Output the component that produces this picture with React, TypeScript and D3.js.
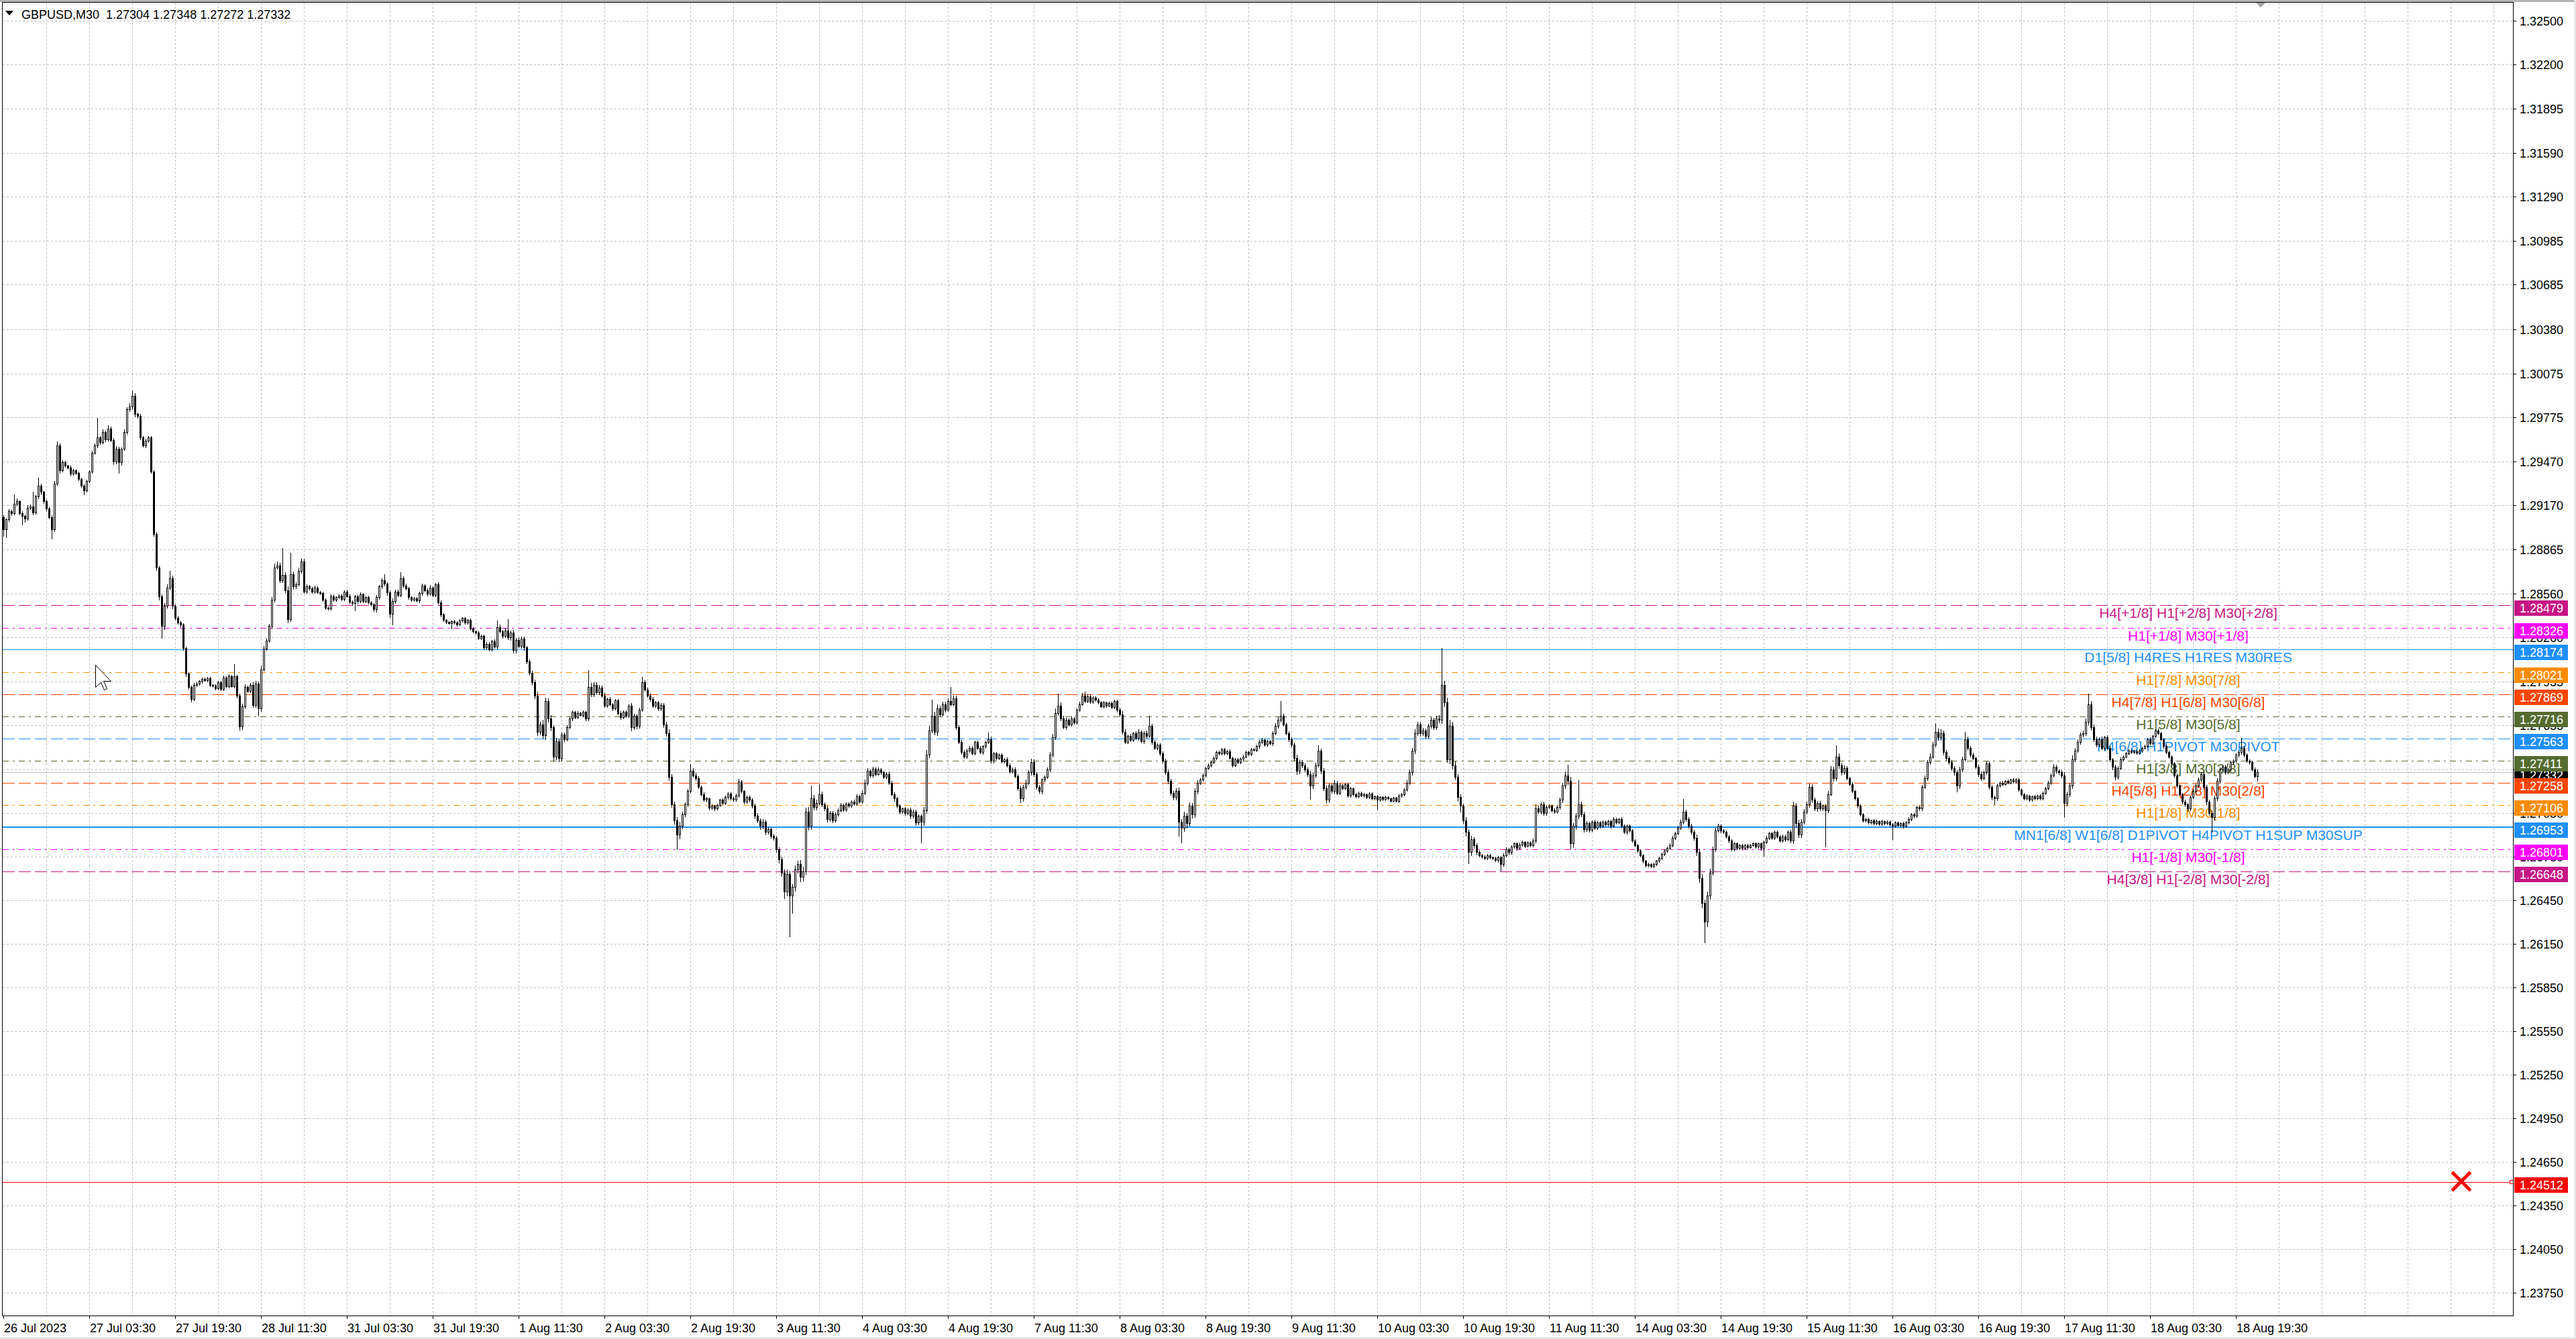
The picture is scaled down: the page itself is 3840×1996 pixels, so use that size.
import React from "react";
import * as d3 from "d3";

// ---------- DATA ----------
const chartTitle = "GBPUSD,M30  1.27304 1.27348 1.27272 1.27332";

// prices in points (0.00001) above 1.20000 ; open of bar n = close of bar n-1
const firstOpenPts = 9086;
const closePts = [
  9004,9070,9128,9111,9177,9194,9111,9095,9078,9152,9161,9119,9227,9301,9259,9194,9144,9086,9004,9317,
  9581,9408,9466,9441,9429,9386,9408,9391,9350,9304,9271,9334,9400,9528,9581,9634,9601,9672,9622,9696,
  9617,9469,9556,9462,9556,9672,9828,9845,9919,9795,9782,9634,9581,9611,9634,9400,8971,8740,8542,8336,
  8476,8600,8666,8476,8394,8361,8345,8186,8008,7916,7834,7932,7941,7957,7974,7965,7979,7932,7929,7908,
  7949,7903,7982,7924,7990,7924,7990,7858,7644,7784,7916,7891,7932,7792,7941,7768,8040,8180,8237,8336,
  8518,8740,8753,8650,8687,8584,8386,8691,8608,8625,8715,8781,8575,8608,8595,8575,8600,8570,8562,8518,
  8463,8460,8542,8518,8534,8546,8523,8575,8542,8504,8493,8542,8509,8556,8509,8534,8501,8485,8452,8534,
  8608,8650,8628,8567,8419,8509,8575,8551,8666,8617,8595,8534,8518,8526,8513,8562,8617,8584,8559,8600,
  8551,8622,8501,8414,8378,8364,8358,8369,8361,8348,8374,8391,8361,8378,8320,8300,8292,8255,8270,8190,
  8215,8178,8230,8195,8330,8300,8270,8305,8260,8290,8170,8240,8200,8250,8190,8095,8015,7950,7860,7610,
  7660,7585,7820,7700,7640,7440,7545,7430,7590,7560,7640,7700,7745,7712,7740,7725,7745,7700,7920,7865,
  7930,7880,7915,7860,7790,7835,7800,7770,7825,7740,7710,7745,7720,7790,7640,7720,7650,7760,7950,7900,
  7860,7835,7790,7810,7770,7795,7660,7600,7300,7110,7000,6900,6960,7040,7110,7200,7340,7310,7290,7230,
  7180,7140,7150,7085,7100,7080,7105,7140,7120,7160,7185,7150,7140,7170,7265,7200,7130,7160,7140,7100,
  7030,7000,6960,6990,6920,6940,6895,6880,6800,6730,6640,6510,6630,6480,6540,6660,6700,6610,6650,7060,
  6960,7150,7090,7120,7180,7110,7080,7010,7050,7000,7040,7070,7105,7075,7115,7100,7130,7115,7165,7130,
  7190,7260,7340,7310,7355,7320,7350,7330,7300,7320,7260,7180,7150,7100,7060,7080,7050,7075,7030,7060,
  6985,7030,6990,7070,7450,7620,7720,7610,7770,7730,7800,7760,7820,7800,7840,7640,7540,7470,7440,7480,
  7500,7460,7540,7500,7470,7510,7540,7560,7410,7460,7430,7450,7405,7420,7380,7335,7350,7305,7220,7150,
  7230,7260,7330,7400,7320,7230,7200,7280,7300,7350,7450,7570,7740,7790,7700,7640,7690,7660,7700,7675,
  7760,7800,7860,7820,7855,7815,7845,7830,7810,7785,7810,7790,7805,7780,7820,7760,7730,7610,7540,7580,
  7555,7600,7565,7610,7545,7600,7580,7650,7540,7500,7520,7460,7410,7330,7270,7190,7160,7200,6990,6950,
  7030,6980,7100,7040,7200,7260,7280,7310,7360,7380,7400,7430,7470,7460,7490,7460,7475,7430,7380,7420,
  7400,7425,7440,7470,7455,7490,7485,7510,7540,7555,7520,7545,7530,7600,7650,7690,7720,7660,7600,7560,
  7520,7430,7340,7400,7380,7350,7320,7240,7310,7380,7480,7340,7220,7140,7240,7200,7260,7190,7240,7220,
  7250,7170,7220,7180,7165,7190,7170,7180,7160,7185,7150,7165,7140,7160,7145,7160,7150,7135,7155,7135,
  7170,7180,7210,7260,7330,7480,7600,7660,7600,7620,7580,7650,7690,7640,7700,7690,7930,7810,7420,7650,
  7380,7300,7160,7100,7000,6920,6780,6870,6830,6780,6760,6750,6740,6760,6745,6740,6725,6745,6700,6760,
  6800,6780,6820,6840,6810,6835,6850,6825,6845,6830,6860,7080,7060,7110,7050,7090,7100,7070,7060,7090,
  7140,7240,7310,7270,6840,6960,7030,7110,7040,6940,6980,6935,6990,6950,6985,6960,6990,6970,6995,6960,
  7010,6985,7010,6960,6920,6960,6930,6860,6830,6790,6760,6720,6690,6700,6685,6700,6720,6740,6770,6790,
  6810,6830,6880,6910,6950,6990,7060,7010,6960,6920,6880,6780,6600,6430,6300,6480,6640,6800,6930,6960,
  6930,6920,6890,6860,6800,6840,6810,6830,6810,6830,6815,6830,6840,6820,6840,6810,6850,6880,6910,6880,
  6920,6890,6860,6890,6870,6920,6860,7100,6980,6900,6990,7060,7110,7230,7140,7080,7120,7080,7100,7070,
  7180,7350,7290,7440,7380,7330,7360,7290,7250,7200,7150,7100,7040,7000,7010,6985,7000,6980,6995,6975,
  6995,6980,6990,6970,6960,6985,6965,6980,6960,6985,7010,7040,7030,7090,7080,7230,7290,7400,7440,7520,
  7610,7570,7600,7470,7430,7400,7360,7330,7240,7350,7420,7560,7500,7450,7430,7370,7320,7290,7330,7390,
  7230,7160,7150,7240,7260,7250,7270,7260,7280,7265,7280,7210,7180,7150,7170,7140,7165,7150,7170,7150,
  7190,7220,7260,7310,7370,7340,7330,7310,7120,7180,7240,7420,7480,7540,7590,7600,7680,7800,7640,7560,
  7520,7560,7500,7570,7500,7420,7370,7300,7360,7420,7440,7460,7480,7470,7475,7465,7480,7500,7510,7560,
  7530,7580,7620,7600,7560,7510,7470,7440,7390,7310,7240,7180,7130,7110,7080,7160,7200,7240,7280,7320,
  7230,7130,7050,7020,7150,7270,7350,7370,7330,7350,7400,7410,7450,7470,7500,7450,7410,7400,7350,7304,
  7332,
];
// upper wick (points above max(open, close))
const wickHiPts = [
  12,8,15,10,66,21,9,14,7,18,12,100,10,57,15,8,11,9,13,20,
  25,14,10,8,6,12,9,7,10,8,6,12,9,15,10,136,12,18,10,22,
  14,12,20,15,9,18,16,25,38,20,12,15,10,14,8,10,8,12,10,15,
  20,25,51,18,10,12,8,10,8,12,10,15,8,6,9,7,10,8,6,9,
  8,10,12,9,14,10,83,12,15,20,18,12,14,16,20,15,25,18,12,15,
  20,25,30,18,185,20,25,148,20,15,18,22,20,15,10,12,14,8,10,12,
  10,8,12,10,8,9,11,8,10,12,8,10,9,12,10,8,11,9,12,15,
  12,15,41,12,15,18,12,10,41,15,12,10,8,9,10,12,10,8,14,18,
  10,12,15,12,10,8,6,7,9,8,10,7,9,8,10,8,7,9,10,8,
  10,12,9,14,46,15,12,18,78,14,20,15,18,12,14,10,12,15,18,25,
  20,30,22,18,25,15,20,18,15,12,14,10,9,8,10,7,9,8,114,25,
  20,18,15,12,14,10,12,9,11,8,10,9,12,10,15,12,10,14,39,15,
  12,10,15,12,10,14,12,20,25,20,18,22,30,20,15,18,49,20,15,12,
  10,12,9,8,10,7,9,8,10,12,9,8,10,12,20,10,8,12,9,10,
  15,20,12,18,15,12,10,14,12,15,18,20,30,25,22,28,20,25,30,25,
  30,87,25,20,70,18,15,20,14,12,15,10,12,9,10,8,9,10,12,10,
  15,20,18,12,15,10,12,9,10,12,15,10,12,9,10,8,12,9,10,12,
  15,12,10,20,35,30,112,25,30,20,18,15,20,100,18,20,15,12,15,12,
  10,12,9,10,12,8,10,44,15,12,10,12,9,10,12,10,12,15,12,18,
  15,20,15,25,18,12,15,12,10,15,20,25,30,80,20,18,15,12,15,10,
  12,15,18,27,10,12,9,10,8,9,10,8,9,10,12,10,15,20,15,12,
  14,10,12,15,10,12,20,68,15,12,10,12,15,12,18,15,12,20,25,20,
  30,20,25,18,20,15,12,14,10,12,9,10,8,10,9,8,10,12,9,10,
  8,9,10,8,9,10,8,9,12,10,9,8,10,15,18,20,99,15,12,14,
  12,15,20,18,15,12,14,20,15,18,35,15,20,18,15,12,14,10,12,9,
  10,8,9,7,8,6,7,8,6,7,8,6,9,7,6,8,7,6,8,7,
  9,10,12,15,18,20,25,20,18,15,12,15,18,15,20,25,256,30,35,40,
  30,25,20,18,15,20,18,22,15,12,10,8,9,7,8,6,9,8,10,12,
  15,12,10,9,8,10,9,8,10,9,15,30,20,15,18,14,12,10,12,15,
  18,20,25,71,30,20,18,165,20,18,15,12,10,12,9,10,8,9,10,8,
  10,9,8,12,10,12,10,9,10,8,9,7,8,7,6,8,7,9,8,10,
  9,10,12,10,12,15,88,15,12,14,15,20,25,30,25,30,25,20,18,15,
  12,10,12,9,10,8,9,7,8,6,7,8,6,7,8,9,10,12,10,9,
  10,12,9,10,12,10,14,30,20,25,20,18,20,25,18,15,12,14,10,12,
  20,25,20,75,20,15,18,12,10,12,9,10,8,9,7,8,6,7,8,6,
  7,6,8,7,9,8,6,7,8,9,10,12,9,12,10,15,18,15,20,18,
  57,20,25,18,15,12,14,12,15,18,20,49,15,12,14,10,12,15,12,14,
  15,12,10,12,9,10,8,9,7,8,10,9,8,7,8,6,7,8,6,7,
  9,10,12,14,15,12,10,15,20,18,20,25,18,20,15,18,20,70,20,18,
  15,12,14,12,15,12,10,12,15,12,9,10,8,9,7,8,9,8,10,9,
  10,8,9,10,8,9,10,8,9,10,12,10,9,12,10,12,14,12,15,12,
  15,12,14,18,20,18,15,12,14,10,12,10,9,10,66,12,10,9,10,12,
  16,
];
// lower wick (points below min(open, close))
const wickLoPts = [
  49,58,12,10,8,14,9,58,25,12,10,15,9,12,18,10,14,12,66,15,
  12,18,10,8,9,12,8,10,9,12,28,10,9,12,10,14,12,10,15,12,
  10,18,12,71,15,10,12,15,10,18,15,12,10,14,9,12,15,20,25,79,
  20,15,12,18,15,10,12,15,18,12,17,10,9,8,10,7,9,8,10,9,
  8,10,9,12,10,8,12,15,20,15,12,10,12,15,12,50,15,12,10,12,
  15,12,10,14,12,15,25,18,15,12,10,12,9,10,8,9,10,8,9,10,
  8,10,12,9,10,8,9,10,8,9,10,50,12,9,10,8,9,10,12,15,
  12,10,12,15,20,74,15,12,10,12,9,10,8,9,10,12,10,9,12,10,
  9,12,10,12,9,8,7,38,8,9,7,8,9,10,8,9,10,8,9,12,
  10,12,9,10,12,10,14,12,15,20,15,18,12,15,18,15,12,18,20,25,
  20,18,25,20,22,30,20,25,18,15,12,10,12,9,10,8,9,12,15,12,
  10,12,14,10,12,9,10,12,9,10,12,10,9,12,20,15,18,12,10,12,
  10,12,9,10,12,15,20,18,25,20,22,98,25,18,15,12,10,12,14,10,
  12,9,10,12,8,10,9,8,10,9,12,10,8,9,10,12,15,10,12,14,
  18,15,20,15,18,12,15,14,18,20,25,45,30,281,116,25,20,30,25,20,
  25,20,18,15,12,15,12,18,14,15,12,10,9,12,10,9,10,8,9,10,
  12,10,14,12,10,12,9,10,12,9,10,12,15,12,14,10,12,9,15,12,
  20,15,145,25,20,15,18,20,25,15,12,14,10,12,10,15,12,14,10,12,
  9,10,8,10,9,12,10,9,15,12,10,12,9,10,12,10,9,12,15,27,
  18,15,12,15,18,15,12,14,12,10,15,12,10,15,12,10,12,9,10,12,
  10,9,8,10,9,8,10,7,9,8,10,9,8,10,9,12,10,15,12,10,
  12,10,9,12,10,14,12,10,15,12,10,12,15,12,18,15,20,18,95,105,
  25,30,20,22,18,15,12,10,12,9,10,8,9,10,8,9,10,8,10,9,
  8,9,10,8,9,10,8,9,10,12,9,10,8,12,10,15,12,10,12,15,
  12,15,20,18,15,12,14,92,20,15,12,18,15,20,15,12,14,10,12,9,
  8,10,8,9,7,8,6,8,7,9,8,6,67,8,7,6,8,7,6,8,
  9,8,10,9,12,15,18,15,20,15,12,15,12,14,12,15,20,25,18,30,
  25,20,25,40,20,25,74,20,18,15,12,10,9,8,10,9,8,10,45,15,
  12,15,10,9,12,8,9,10,8,12,10,15,12,14,15,12,10,12,9,10,
  12,15,18,20,33,25,20,18,15,20,15,12,10,12,9,10,8,9,10,12,
  9,10,8,12,10,12,9,10,12,9,10,12,9,8,10,8,9,7,8,9,
  8,9,10,8,9,10,12,15,12,14,15,20,25,30,139,30,20,15,12,10,
  12,10,9,12,10,9,8,9,7,8,9,7,8,9,10,12,54,10,9,12,
  10,12,9,10,12,10,15,20,25,18,15,12,14,18,15,12,14,10,12,251,
  15,12,18,15,20,15,12,10,12,9,10,12,9,8,10,7,8,9,7,8,
  9,8,7,10,90,8,9,7,10,8,9,10,12,9,10,12,10,12,15,12,
  15,18,15,20,15,12,14,15,41,18,15,12,14,12,10,12,15,12,10,14,
  15,18,40,12,10,9,8,9,7,8,9,10,8,9,7,8,6,8,7,9,
  8,9,10,12,10,12,14,15,98,20,15,18,15,12,14,12,15,20,18,15,
  12,15,12,14,12,15,18,20,15,12,10,9,8,9,7,8,9,10,8,9,
  10,9,8,10,12,10,9,12,10,12,15,12,14,12,15,12,10,12,10,12,
  15,18,15,99,15,12,14,10,12,9,10,12,9,10,12,10,9,12,10,9,
  32,
];

const barsPerDateLabel = 32;
const dateLabels = [
  "26 Jul 2023", "27 Jul 03:30", "27 Jul 19:30", "28 Jul 11:30", "31 Jul 03:30", "31 Jul 19:30",
  "1 Aug 11:30", "2 Aug 03:30", "2 Aug 19:30", "3 Aug 11:30", "4 Aug 03:30", "4 Aug 19:30",
  "7 Aug 11:30", "8 Aug 03:30", "8 Aug 19:30", "9 Aug 11:30", "10 Aug 03:30", "10 Aug 19:30",
  "11 Aug 11:30", "14 Aug 03:30", "14 Aug 19:30", "15 Aug 11:30", "16 Aug 03:30", "16 Aug 19:30",
  "17 Aug 11:30", "18 Aug 03:30", "18 Aug 19:30",
];

const priceTickLabels = [
  "1.32500", "1.32200", "1.31895", "1.31590", "1.31290", "1.30985", "1.30685", "1.30380",
  "1.30075", "1.29775", "1.29470", "1.29170", "1.28865", "1.28560", "1.28260", "1.27955",
  "1.27655", "1.27350", "1.27050", "1.26750", "1.26450", "1.26150", "1.25850", "1.25550",
  "1.25250", "1.24950", "1.24650", "1.24350", "1.24050", "1.23750",
];

const levelPrices = [1.28479, 1.28326, 1.28174, 1.28021, 1.27869, 1.27716, 1.27563, 1.27411, 1.27258, 1.27106, 1.26953, 1.26801, 1.26648];
const levelTexts = [
  "H4[+1/8] H1[+2/8] M30[+2/8]",
  "H1[+1/8] M30[+1/8]",
  "D1[5/8] H4RES H1RES M30RES",
  "H1[7/8] M30[7/8]",
  "H4[7/8] H1[6/8] M30[6/8]",
  "H1[5/8] M30[5/8]",
  "H4[6/8] H1PIVOT M30PIVOT",
  "H1[3/8] M30[3/8]",
  "H4[5/8] H1[2/8] M30[2/8]",
  "H1[1/8] M30[1/8]",
  "MN1[6/8] W1[6/8] D1PIVOT H4PIVOT H1SUP M30SUP",
  "H1[-1/8] M30[-1/8]",
  "H4[3/8] H1[-2/8] M30[-2/8]",
];
const levelColors = ["#C71585", "#FF00FF", "#1E90FF", "#FF8C00", "#FF4500", "#556B2F", "#1E90FF", "#556B2F", "#FF4500", "#FF8C00", "#1E90FF", "#FF00FF", "#C71585"];
const levelStyles = ["dash", "dashdot", "solid", "dashdot", "dash", "dashdot", "dash", "dashdot", "dash", "dashdot", "solid2", "dashdot", "dash"];

const bidPrice = 1.27332;
const alertPrice = 1.24512;

// ---------- LAYOUT ----------
const W = 3840;
const H = 1996;
const plotL = 4;
const plotR = 3746;
const plotT = 4;
const plotB = 1961;
const FONT = "'Liberation Sans', Arial, sans-serif";

export default function App() {
  const x = d3.scaleLinear().domain([0, 1]).range([5, 9]);
  const y = d3.scaleLinear().domain([1.235928, 1.326258]).range([plotB, plotT]);
  const yr = (p: number) => Math.round(y(p));
  const P = (pts: number) => 1.2 + pts / 1e5;

  const n = Math.min(closePts.length, wickHiPts.length, wickLoPts.length);
  const candles = d3.range(n).map((i) => {
    const o = i === 0 ? firstOpenPts : closePts[i - 1];
    const c = closePts[i];
    return {
      i,
      o: P(o),
      c: P(c),
      h: P(Math.max(o, c) + wickHiPts[i]),
      l: P(Math.min(o, c) - wickLoPts[i]),
    };
  });

  const vGrid = d3.range(1, 200).map((k) => x(16 * k)).filter((v) => v < plotR - 2);
  const dashFor = (s: string) => (s === "dash" ? "18,6" : s === "dashdot" ? "9,6,3,6" : undefined);
  const labelCenterX = 3262;

  return (
    <svg width={W} height={H} style={{ position: "absolute", left: 0, top: 0, display: "block" }} xmlns="http://www.w3.org/2000/svg">
      <rect x={0} y={0} width={W} height={H} fill="#ffffff" />
      <rect x={0} y={0} width={W} height={3} fill="#b4b4b4" />
      <rect x={0} y={H - 3} width={W} height={3} fill="#e6e6e6" />
      <rect x={W - 3} y={0} width={3} height={H} fill="#e6e6e6" />

      {/* grid */}
      <g shapeRendering="crispEdges" stroke="#c0c0c0" strokeWidth={1} strokeDasharray="3,3">
        {priceTickLabels.map((t) => (
          <line key={"hg" + t} x1={plotL} x2={plotR} y1={yr(+t) + 0.5} y2={yr(+t) + 0.5} />
        ))}
        {vGrid.map((v) => (
          <line key={"vg" + v} x1={v + 0.5} x2={v + 0.5} y1={plotT} y2={plotB} />
        ))}
      </g>

      {/* level lines */}
      <g shapeRendering="crispEdges">
        {levelPrices.map((p, k) => (
          <line
            key={"lv" + k}
            x1={plotL}
            x2={plotR}
            y1={levelStyles[k] === "solid2" ? yr(p) : yr(p) + 0.5}
            y2={levelStyles[k] === "solid2" ? yr(p) : yr(p) + 0.5}
            stroke={levelColors[k]}
            strokeWidth={levelStyles[k] === "solid2" ? 2 : 1}
            strokeDasharray={dashFor(levelStyles[k])}
          />
        ))}
        <line x1={plotL} x2={plotR} y1={yr(bidPrice) + 0.5} y2={yr(bidPrice) + 0.5} stroke="#c0c0c0" strokeWidth={1} />
        <line x1={plotL} x2={plotR} y1={yr(alertPrice) + 0.5} y2={yr(alertPrice) + 0.5} stroke="#ff0000" strokeWidth={1} />
        <rect x={3741.5} y={yr(alertPrice) - 2.5} width={5} height={5} fill="#ffffff" stroke="#ff0000" strokeWidth={1} />
      </g>

      {/* level texts */}
      <g fontFamily={FONT} fontSize={21} textAnchor="middle">
        {levelPrices.map((p, k) => (
          <text key={"lt" + k} x={labelCenterX} y={yr(p) + 19} fill={levelColors[k]}>
            {levelTexts[k]}
          </text>
        ))}
      </g>

      {/* candles */}
      <g shapeRendering="crispEdges">
        {candles.map((d) => {
          const cx = Math.round(x(d.i));
          const yo = yr(d.o);
          const yc = yr(d.c);
          const yh = yr(d.h);
          const yl = yr(d.l);
          const top = Math.min(yo, yc);
          const bot = Math.max(yo, yc);
          const bull = d.c >= d.o;
          return (
            <g key={"c" + d.i}>
              <line x1={cx + 0.5} x2={cx + 0.5} y1={yh} y2={yl + 1} stroke="#000" strokeWidth={1} />
              {bull ? (
                bot - top >= 2 ? (
                  <rect x={cx - 0.5} y={top + 0.5} width={2} height={bot - top} fill="#fff" stroke="#000" strokeWidth={1} />
                ) : (
                  <rect x={cx - 1} y={top} width={3} height={Math.max(1, bot - top + 1)} fill="#000" />
                )
              ) : (
                <rect x={cx - 1} y={top} width={3} height={Math.max(1, bot - top + 1)} fill="#000" />
              )}
            </g>
          );
        })}
      </g>

      {/* alert marker X */}
      <g stroke="#ff0000" strokeWidth={5} strokeLinecap="square">
        <line x1={3657} y1={yr(alertPrice) - 13} x2={3681} y2={yr(alertPrice) + 11} />
        <line x1={3681} y1={yr(alertPrice) - 13} x2={3657} y2={yr(alertPrice) + 11} />
      </g>

      {/* mouse cursor */}
      <path
        d="M0,0 L0,33 L8,26 L13,37 L17,35 L12,24 L23,24 Z"
        transform="translate(142.5,991.5)"
        fill="#ffffff"
        stroke="#000000"
        strokeWidth={1}
      />

      {/* chart frame */}
      <rect x={plotL - 0.5} y={plotT - 0.5} width={plotR - plotL + 1} height={plotB - plotT + 1} fill="none" stroke="#000" strokeWidth={1} shapeRendering="crispEdges" />
      <polygon points={`3363,${plotT} 3377,${plotT} 3370,${plotT + 7}`} fill="#a0a0a0" />

      {/* price axis */}
      <g fontFamily={FONT} fontSize={18} fill="#000">
        {priceTickLabels.map((t) => (
          <g key={"pt" + t}>
            <line x1={plotR} x2={plotR + 5} y1={yr(+t) + 0.5} y2={yr(+t) + 0.5} stroke="#000" shapeRendering="crispEdges" />
            <text x={3756} y={yr(+t) + 7}>{t}</text>
          </g>
        ))}
      </g>

      {/* bid box + level boxes */}
      <g fontFamily={FONT} fontSize={18}>
        <rect x={3748} y={yr(bidPrice) - 7} width={80} height={23} fill="#000" />
        <text x={3756} y={yr(bidPrice) + 11} fill="#fff">{bidPrice.toFixed(5)}</text>
        {levelPrices.map((p, k) => (
          <g key={"lb" + k}>
            <rect x={3748} y={yr(p) - 7} width={80} height={23} fill={levelColors[k]} />
            <text x={3756} y={yr(p) + 11} fill="#fff">{p.toFixed(5)}</text>
          </g>
        ))}
        <rect x={3748} y={yr(alertPrice) - 7} width={80} height={23} fill="#ff0000" />
        <text x={3756} y={yr(alertPrice) + 11} fill="#fff">{alertPrice.toFixed(5)}</text>
      </g>

      {/* time axis */}
      <g fontFamily={FONT} fontSize={18} fill="#000">
        {dateLabels.map((t, k) => {
          const tx = Math.round(x(k * barsPerDateLabel));
          return (
            <g key={"dt" + k}>
              <line x1={tx + 0.5} x2={tx + 0.5} y1={plotB} y2={plotB + 5} stroke="#000" shapeRendering="crispEdges" />
              <text x={tx + 1} y={1986}>{t}</text>
            </g>
          );
        })}
      </g>

      {/* title */}
      <polygon points="8,16 20,16 14,23" fill="#000" />
      <text x={32} y={28} fontFamily={FONT} fontSize={18} fill="#000" style={{ whiteSpace: "pre" }}>
        {chartTitle}
      </text>
    </svg>
  );
}
